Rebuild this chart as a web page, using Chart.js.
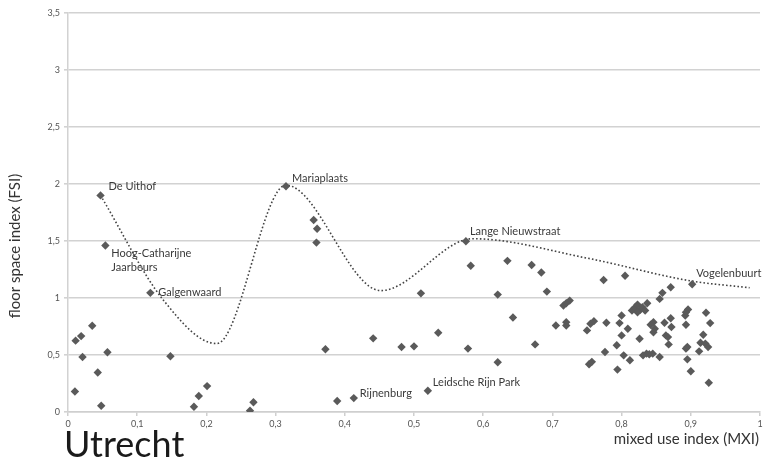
<!DOCTYPE html>
<html>
<head>
<meta charset="utf-8">
<script src="https://cdn.jsdelivr.net/npm/chart.js@4/dist/chart.umd.min.js"></script>
<style>
  html, body { margin: 0; padding: 0; background: #fff; }
  #wrap { width: 769px; height: 468px; }
</style>
</head>
<body>
<div id="wrap"><canvas id="chart" width="769" height="468"></canvas></div>
<script>
// axis ticks
const xTicks = [0, 0.1, 0.2, 0.3, 0.4, 0.5, 0.6, 0.7, 0.8, 0.9, 1];
const yTicks = [0, 0.5, 1, 1.5, 2, 2.5, 3, 3.5];

// neighbourhoods: mixed use index (MXI) and floor space index (FSI)
const mxi = [
  0.010, 0.011, 0.019, 0.021, 0.035, 0.043, 0.047, 0.048, 0.054, 0.057,
  0.119, 0.148, 0.182, 0.189, 0.201, 0.263, 0.268,
  0.315, 0.355, 0.360, 0.359, 0.372, 0.389, 0.413, 0.441, 0.482, 0.500,
  0.510, 0.520, 0.535, 0.575, 0.578, 0.582, 0.621, 0.621, 0.635, 0.643,
  0.670, 0.675, 0.684, 0.692, 0.705, 0.716, 0.720, 0.725, 0.720, 0.720,
  0.750, 0.755, 0.760, 0.753, 0.757, 0.774, 0.776, 0.778, 0.793, 0.794,
  0.797, 0.800, 0.800, 0.803, 0.805, 0.809, 0.812, 0.815, 0.819, 0.823,
  0.827, 0.830, 0.823, 0.834, 0.837, 0.826, 0.831, 0.836, 0.840, 0.845,
  0.855, 0.846, 0.842, 0.848, 0.846, 0.855, 0.859, 0.871, 0.862, 0.871,
  0.872, 0.864, 0.867, 0.868, 0.892, 0.896, 0.893, 0.893, 0.893, 0.895,
  0.895, 0.900, 0.902, 0.922, 0.928, 0.918, 0.914, 0.921, 0.925, 0.912,
  0.926
];
const fsi = [
  0.18, 0.626, 0.666, 0.483, 0.757, 0.346, 1.90, 0.055, 1.46, 0.524,
  1.045, 0.489, 0.046, 0.14, 0.227, 0.011, 0.085,
  1.98, 1.684, 1.608, 1.486, 0.55, 0.096, 0.122, 0.646, 0.57, 0.576,
  1.041, 0.186, 0.695, 1.498, 0.556, 1.283, 1.03, 0.436, 1.326, 0.829,
  1.289, 0.593, 1.224, 1.056, 0.759, 0.934, 0.954, 0.977, 0.788, 0.759,
  0.716, 0.774, 0.797, 0.419, 0.44, 1.158, 0.526, 0.783, 0.585, 0.372,
  0.78, 0.846, 0.672, 0.497, 1.195, 0.73, 0.454, 0.89, 0.914, 0.942,
  0.896, 0.919, 0.875, 0.89, 0.954, 0.643, 0.497, 0.512, 0.506, 0.512,
  0.483, 0.788, 0.765, 0.73, 0.70, 0.992, 1.045, 1.094, 0.783, 0.823,
  0.745, 0.672, 0.657, 0.593, 0.846, 0.899, 0.875, 0.765, 0.556, 0.57,
  0.462, 0.358, 1.12, 0.87, 0.78, 0.678, 0.608, 0.60, 0.57, 0.532,
  0.256
];

// dotted trend line, read through its turning points
const curveMxi = [0.047, 0.138, 0.215, 0.315, 0.452, 0.585, 0.75, 0.90, 0.985];
const curveFsi = [1.90, 0.98, 0.60, 1.99, 1.065, 1.52, 1.35, 1.15, 1.09];

// named places
const siteNames = [['De Uithof'], ['Hoog-Catharijne', 'Jaarbeurs'], ['Galgenwaard'], ['Mariaplaats'],
  ['Lange Nieuwstraat'], ['Vogelenbuurt'], ['Rijnenburg'], ['Leidsche Rijn Park']];
const siteMxi = [0.047, 0.054, 0.119, 0.315, 0.575, 0.902, 0.413, 0.520];
const siteFsi = [1.90, 1.46, 1.045, 1.98, 1.498, 1.12, 0.122, 0.186];

const fmt = v => String(Math.round(v * 10) / 10).replace('.', ',');

// label offsets in px from each named point
const labelOffsets = [[8, -9], [6, 8], [8, 0], [6, -8], [4, -10], [4, -11], [6, -5], [5, -8]];

const textPlugin = {
  id: 'texts',
  afterDatasetsDraw(chart) {
    const { ctx, chartArea, scales: { x, y } } = chart;
    ctx.save();
    ctx.fillStyle = '#3a3a3a';
    ctx.font = '11px Lato';
    ctx.textBaseline = 'middle';
    ctx.textAlign = 'left';
    siteNames.forEach((lines, i) => {
      const px = x.getPixelForValue(siteMxi[i]) + labelOffsets[i][0];
      const py = y.getPixelForValue(siteFsi[i]) + labelOffsets[i][1];
      lines.forEach((t, j) => ctx.fillText(t, px, py + j * 14));
    });

    // axis titles
    ctx.fillStyle = '#333';
    ctx.font = '15px Lato';
    ctx.textAlign = 'right';
    ctx.fillText('mixed use index (MXI)', chartArea.right - 1, chartArea.bottom + 27);

    ctx.save();
    ctx.translate(chartArea.left - 53, chartArea.top + 233);
    ctx.rotate(-Math.PI / 2);
    ctx.textAlign = 'center';
    ctx.fillText('floor space index (FSI)', 0, 0);
    ctx.restore();

    ctx.fillStyle = '#1a1a1a';
    ctx.font = '36px Lato';
    ctx.textAlign = 'left';
    ctx.textBaseline = 'alphabetic';
    ctx.fillText('Utrecht', chartArea.left - 4, chartArea.bottom + 45);
    ctx.restore();
  }
};

new Chart(document.getElementById('chart'), {
  type: 'scatter',
  data: {
    datasets: [
      {
        label: 'trend',
        type: 'line',
        data: curveMxi.map((v, i) => ({ x: v, y: curveFsi[i] })),
        borderColor: '#444',
        borderWidth: 1.6,
        borderDash: [1.6, 2.2],
        pointRadius: 0,
        cubicInterpolationMode: 'monotone',
        fill: false,
        order: 2,
      },
      {
        label: 'neighbourhoods',
        data: mxi.map((v, i) => ({ x: v, y: fsi[i] })),
        pointStyle: 'rectRot',
        pointRadius: 4.2,
        backgroundColor: '#5a5a5a',
        borderColor: '#5a5a5a',
        borderWidth: 0,
        order: 1,
      },
    ],
  },
  options: {
    responsive: false,
    animation: false,
    devicePixelRatio: 1,
    layout: { padding: { top: 13, right: 9, left: 0, bottom: 0 } },
    plugins: { legend: { display: false }, tooltip: { enabled: false } },
    scales: {
      x: {
        type: 'linear',
        min: 0,
        max: 1,
        afterBuildTicks: s => { s.ticks = xTicks.map(v => ({ value: v })); },
        afterFit: s => { s.height = 56; },
        grid: { drawOnChartArea: false, drawTicks: true, tickLength: 4, color: '#cfcfcf', lineWidth: 1.5 },
        border: { color: '#cfcfcf', width: 1.5 },
        ticks: { callback: fmt, color: '#555', font: { family: 'Lato', size: 9 }, padding: 3, maxRotation: 0 },
      },
      y: {
        type: 'linear',
        min: 0,
        max: 3.5,
        afterBuildTicks: s => { s.ticks = yTicks.map(v => ({ value: v })); },
        afterFit: s => { s.width = 68; },
        grid: { color: '#d2d2d2', lineWidth: 1.6, tickLength: 4 },
        border: { color: '#d2d2d2', width: 1.5 },
        ticks: { callback: fmt, color: '#555', font: { family: 'Lato', size: 9 }, padding: 4 },
      },
    },
  },
  plugins: [textPlugin],
});
</script>
</body>
</html>
